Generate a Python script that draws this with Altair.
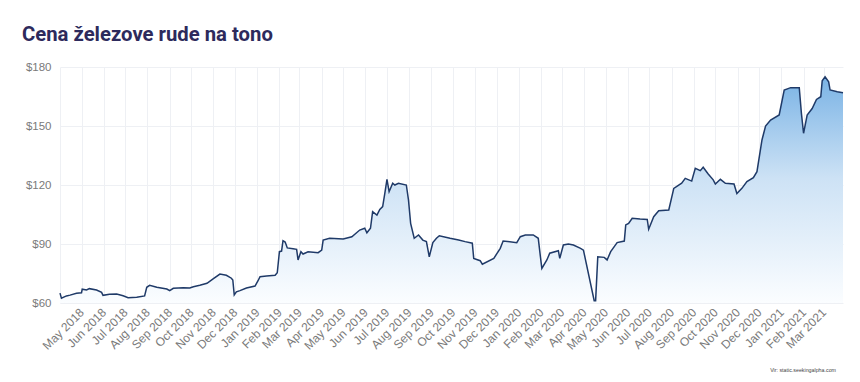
import altair as alt
import pandas as pd

dates = [
    "2018-04-01", "2018-04-03", "2018-04-10", "2018-04-15", "2018-04-24", "2018-05-01", "2018-05-02",
    "2018-05-08", "2018-05-12", "2018-05-22", "2018-05-29", "2018-05-31", "2018-06-09", "2018-06-19",
    "2018-06-28", "2018-07-05", "2018-07-17", "2018-07-28", "2018-07-31", "2018-08-04", "2018-08-14",
    "2018-08-28", "2018-09-01", "2018-09-06", "2018-09-20", "2018-09-29", "2018-10-04", "2018-10-13",
    "2018-10-23", "2018-11-01", "2018-11-10", "2018-11-19", "2018-11-26", "2018-11-28", "2018-11-30",
    "2018-12-03", "2018-12-08", "2018-12-17", "2018-12-29", "2019-01-02", "2019-01-05", "2019-01-14",
    "2019-01-26", "2019-01-29", "2019-02-01", "2019-02-04", "2019-02-06", "2019-02-09", "2019-02-12",
    "2019-02-20", "2019-02-25", "2019-02-27", "2019-03-03", "2019-03-06", "2019-03-13", "2019-03-27",
    "2019-04-01", "2019-04-03", "2019-04-12", "2019-05-01", "2019-05-13", "2019-05-24", "2019-05-31",
    "2019-06-03", "2019-06-08", "2019-06-11", "2019-06-17", "2019-06-21", "2019-06-25", "2019-06-28",
    "2019-07-01", "2019-07-04", "2019-07-09", "2019-07-12", "2019-07-17", "2019-07-28", "2019-07-31",
    "2019-08-03", "2019-08-08", "2019-08-14", "2019-08-20", "2019-08-25", "2019-08-29", "2019-09-03",
    "2019-09-08", "2019-09-12", "2019-09-27", "2019-10-09", "2019-10-18", "2019-10-28", "2019-10-30",
    "2019-11-08", "2019-11-11", "2019-11-27", "2019-12-06", "2019-12-10", "2019-12-29", "2020-01-03",
    "2020-01-10", "2020-01-21", "2020-01-28", "2020-01-31", "2020-02-02", "2020-02-09", "2020-02-13",
    "2020-02-25", "2020-02-27", "2020-03-03", "2020-03-10", "2020-03-17", "2020-03-27", "2020-03-31",
    "2020-04-15", "2020-04-17", "2020-04-20", "2020-04-29", "2020-05-03", "2020-05-08", "2020-05-17",
    "2020-05-27", "2020-05-29", "2020-06-02", "2020-06-07", "2020-06-18", "2020-06-28", "2020-06-30",
    "2020-07-07", "2020-07-14", "2020-07-28", "2020-08-04", "2020-08-15", "2020-08-20", "2020-08-29",
    "2020-09-03", "2020-09-10", "2020-09-14", "2020-09-21", "2020-09-28", "2020-10-01", "2020-10-08",
    "2020-10-15", "2020-10-27", "2020-10-31", "2020-11-07", "2020-11-14", "2020-11-23", "2020-11-28",
    "2020-12-05", "2020-12-10", "2020-12-17", "2020-12-29", "2021-01-05", "2021-01-14", "2021-01-26",
    "2021-01-29", "2021-02-01", "2021-02-06", "2021-02-13", "2021-02-19", "2021-02-25", "2021-02-27",
    "2021-03-03", "2021-03-08", "2021-03-10", "2021-03-20", "2021-03-28",
]
prices = [
    65.0, 62.4, 63.6, 64.0, 65.0, 65.2, 67.0,
    66.6, 67.3, 66.6, 65.4, 63.9, 64.4, 64.6,
    63.7, 62.7, 62.9, 63.6, 68.0, 69.0, 68.0,
    67.1, 66.3, 67.5, 67.8, 67.6, 68.3, 69.0,
    70.0, 72.4, 74.7, 74.1, 72.6, 71.7, 64.1,
    65.7, 66.3, 67.6, 68.6, 71.2, 73.4, 73.7,
    74.1, 75.4, 86.1, 86.4, 91.7, 91.0, 88.0,
    87.6, 87.3, 81.9, 86.1, 84.9, 86.0, 85.6,
    86.9, 92.0, 92.9, 92.5, 93.7, 97.1, 98.0,
    95.7, 98.0, 106.4, 104.7, 107.6, 109.0, 115.7,
    122.9, 116.6, 120.9, 120.0, 120.9, 120.0, 112.4,
    100.5, 92.9, 94.6, 92.0, 91.2, 83.5, 90.7,
    92.9, 94.2, 92.9, 92.0, 91.2, 90.4, 82.7,
    81.5, 79.7, 82.7, 87.8, 91.5, 90.7, 93.7,
    94.6, 94.6, 92.9, 83.5, 77.6, 81.9, 85.3,
    86.6, 82.7, 89.5, 90.0, 89.5, 87.8, 86.9,
    61.2, 61.2, 83.5, 83.2, 81.9, 86.1, 90.7,
    91.5, 99.7, 100.5, 103.1, 102.7, 102.5, 97.5,
    103.9, 106.9, 107.3, 118.3, 120.9, 123.4, 122.0,
    128.5, 127.3, 129.0, 125.6, 122.6, 120.5, 122.9,
    120.9, 120.5, 115.7, 118.3, 121.7, 123.7, 126.8,
    142.9, 150.0, 153.0, 155.6, 168.3, 169.5, 169.5,
    156.4, 146.3, 155.6, 158.9, 163.5, 164.9, 173.0,
    175.0, 172.5, 168.3, 167.4, 166.9,
]

month_ticks = [
    "2018-04-01", "2018-05-01", "2018-06-01", "2018-07-01", "2018-08-01", "2018-09-01",
    "2018-10-01", "2018-11-01", "2018-12-01", "2019-01-01", "2019-02-01", "2019-03-01",
    "2019-04-01", "2019-05-01", "2019-06-01", "2019-07-01", "2019-08-01", "2019-09-01",
    "2019-10-01", "2019-11-01", "2019-12-01", "2020-01-01", "2020-02-01", "2020-03-01",
    "2020-04-01", "2020-05-01", "2020-06-01", "2020-07-01", "2020-08-01", "2020-09-01",
    "2020-10-01", "2020-11-01", "2020-12-01", "2021-01-01", "2021-02-01", "2021-03-01",
]
y_ticks = [60, 90, 120, 150, 180]
x_domain = ["2018-04-01", "2021-03-28"]
y_domain = [60, 180]

title_text = "Cena železove rude na tono"
source_text = "Vir: static.seekingalpha.com"

df = pd.DataFrame({"date": dates, "price": prices})

GRID = "#eef0f4"
LABEL = "#7a7a7a"

x_enc = alt.X(
    "date:T",
    scale=alt.Scale(type="utc", domain=x_domain, nice=False),
    axis=alt.Axis(
        values=month_ticks,
        format="%b %Y",
        labelExpr="datum.index == 0 ? '' : datum.label",
        labelAngle=-45,
        labelAlign="right",
        labelBaseline="middle",
        labelPadding=7,
        labelFont="Liberation Sans",
        labelFontSize=12,
        labelColor=LABEL,
        labelOverlap=False,
        labelBound=False,
        labelFlush=False,
        ticks=False,
        domain=False,
        grid=True,
        gridColor=GRID,
        gridWidth=1,
        title=None,
    ),
)
y_enc = alt.Y(
    "price:Q",
    scale=alt.Scale(domain=y_domain, nice=False, zero=False),
    axis=alt.Axis(
        values=y_ticks,
        labelExpr="'$' + datum.value",
        labelPadding=9,
        labelFont="Liberation Sans",
        labelFontSize=11.5,
        labelColor=LABEL,
        ticks=False,
        domain=False,
        grid=True,
        gridColor=GRID,
        gridWidth=1,
        title=None,
    ),
)

area = alt.Chart(df).mark_area(
    color=alt.Gradient(
        gradient="linear",
        stops=[
            alt.GradientStop(color="#7ab3e5", offset=0),
            alt.GradientStop(color="#cde2f5", offset=0.45),
            alt.GradientStop(color="#fbfdff", offset=1),
        ],
        x1=0, x2=0, y1=0, y2=1,
    ),
    interpolate="linear",
).encode(x=x_enc, y=y_enc, y2=alt.datum(60))

line = alt.Chart(df).mark_line(color="#1f3a68", strokeWidth=1.5).encode(x=x_enc, y=y_enc)

source = alt.Chart(pd.DataFrame({"t": [source_text]})).mark_text(
    align="right", baseline="middle", fontSize=5.3, font="Liberation Sans", color="#444444"
).encode(text="t:N", x=alt.value(776), y=alt.value(303))

chart = alt.layer(area, line, source).properties(
    width=783,
    height=236,
    autosize=alt.AutoSizeParams(type="none"),
    padding={"left": 52, "top": 59, "right": 9, "bottom": 71},
    title=alt.TitleParams(
        text=title_text,
        anchor="start",
        frame="group",
        dx=-38,
        offset=16,
        font="Roboto",
        fontSize=20.3,
        fontWeight="bold",
        color="#2d2a5c",
    ),
).configure_view(stroke=None)

chart.save("out.html", embed_options={"renderer": "svg", "actions": False})
